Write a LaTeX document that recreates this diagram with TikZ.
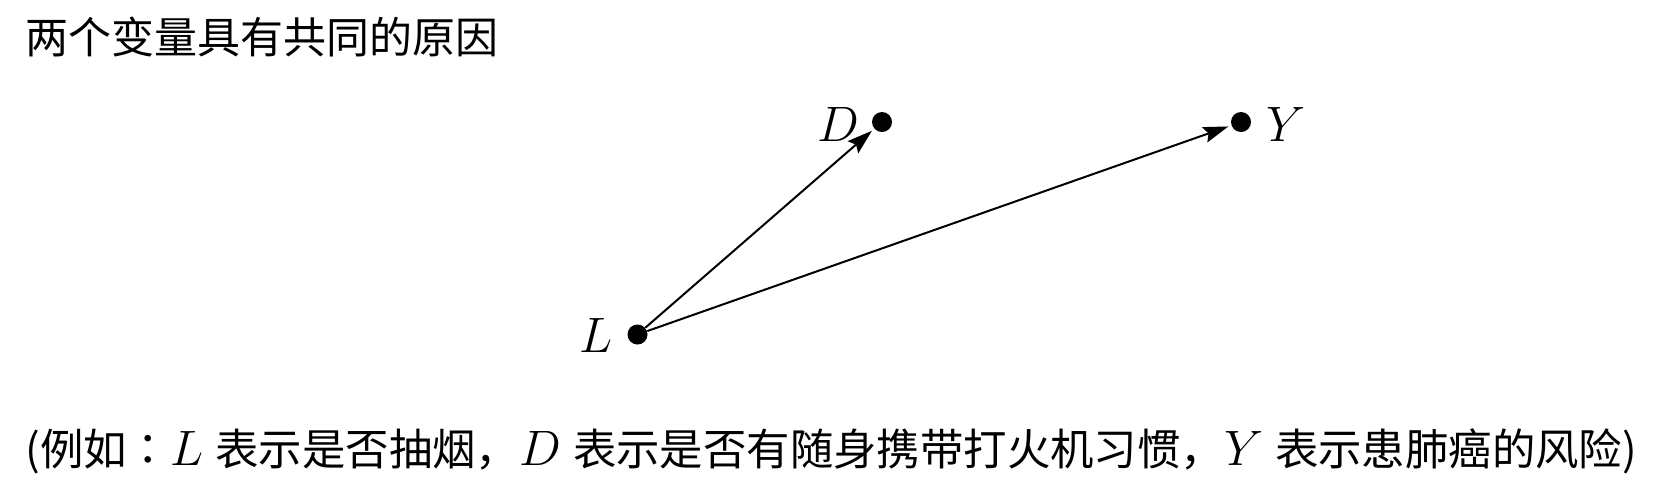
\documentclass[tikz,border=0pt]{standalone}
\usepackage{fontspec}
\newfontfamily\cjk{Noto Sans CJK SC}
\newfontfamily\cjktc{Noto Sans CJK TC}
\usetikzlibrary{arrows.meta}
\newcommand{\mv}[1]{{\fontsize{26}{30}\selectfont$#1$}}
\begin{document}
\begin{tikzpicture}[x=0.5pt,y=-0.5pt,
  dot/.style={circle,fill=black,inner sep=0pt,minimum size=10pt},
  lbl/.style={inner sep=0pt,font=\fontsize{26}{30}\selectfont},
  edge/.style={-{Stealth[length=12.5pt,width=8pt,inset=2pt]},line width=1pt,shorten >=1.5pt},
  txt/.style={inner sep=0pt,anchor=base west}]
\useasboundingbox (0,0) rectangle (1680,478);
\node[txt,font=\cjk\fontsize{21.5}{26}\selectfont] (title) at (25,53) {两个变量具有共同的原因};
\node[dot] (L) at (637.5,334.5) {};
\node[dot] (D) at (882,122) {};
\node[dot] (Y) at (1241,122) {};
\node[lbl] (Ll) at (596,335) {$L$};
\node[lbl] (Dl) at (838,124) {$D$};
\node[lbl] (Yl) at (1286,124) {$Y$};
\draw[edge] (L) -- (D);
\draw[edge] (L) -- (Y);
\node[txt,font=\cjk\fontsize{21.7}{26}\selectfont] (cap) at (25,465) {(例如{\cjktc ：}\mv{L}\hspace{6pt}表示是否抽烟，\mv{D}\hspace{6pt}表示是否有随身携带打火机习惯，\mv{Y}\hspace{6pt}表示患肺癌的风险)};
\end{tikzpicture}
\end{document}
